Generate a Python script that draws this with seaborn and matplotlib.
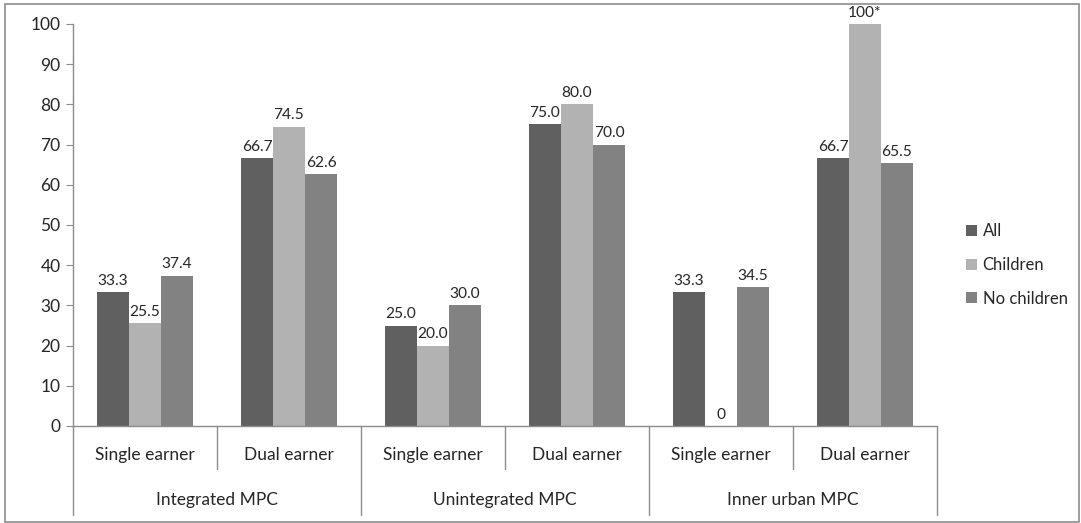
import matplotlib
matplotlib.use("Agg")
import matplotlib.pyplot as plt
import matplotlib.transforms as mtransforms
from matplotlib.patches import Rectangle
import pandas as pd
import seaborn as sns

groups = ["Integrated MPC", "Unintegrated MPC", "Inner urban MPC"]
earners = ["Single earner", "Dual earner"]
series = ["All", "Children", "No children"]
all_vals = [33.3, 66.7, 25.0, 75.0, 33.3, 66.7]
children_vals = [25.5, 74.5, 20.0, 80.0, 0.0, 100.0]
nochildren_vals = [37.4, 62.6, 30.0, 70.0, 34.5, 65.5]
children_labels = ["25.5", "74.5", "20.0", "80.0", "0", "100*"]

cats = [g + "|" + e for g in groups for e in earners]
rows = []
for name, vals in zip(series, [all_vals, children_vals, nochildren_vals]):
    for c, v in zip(cats, vals):
        rows.append({"cat": c, "series": name, "value": v})
df = pd.DataFrame(rows)

sns.set_style("white")
plt.rcParams['font.family'] = ['Lato', 'DejaVu Sans']
colors = ["#606060", "#b2b2b2", "#828282"]
fs = 12

fig = plt.figure(figsize=(10.81, 5.23), dpi=100)
ax = fig.add_axes([73 / 1081, 1 - 426 / 523, (937 - 73) / 1081, (426 - 24) / 523])
sns.barplot(data=df, x="cat", y="value", hue="series", order=cats, hue_order=series,
            palette=colors, width=2 / 3, gap=0, ax=ax, saturation=1, legend=True,
            linewidth=0, edgecolor="none")

ax.set_xlim(-0.5, 5.5)
ax.set_ylim(0, 100)
ax.set_yticks(range(0, 101, 10))
ax.tick_params(axis="y", length=5, color="#8c8c8c", labelsize=fs + 0.5, pad=4, direction="out", left=True)
ax.set_xticks([])
ax.set_xlabel("")
ax.set_ylabel("")
for s in ["top", "right"]:
    ax.spines[s].set_visible(False)
for s in ["left", "bottom"]:
    ax.spines[s].set_color("#8c8c8c")
    ax.spines[s].set_linewidth(1)

labels_all = [f"{v:.1f}" for v in all_vals]
labels_nc = [f"{v:.1f}" for v in nochildren_vals]
for cont, labs in zip(ax.containers, [labels_all, children_labels, labels_nc]):
    ax.bar_label(cont, labels=labs, padding=3, fontsize=fs - 0.8)

# two-level category axis below the plot
trans = mtransforms.blended_transform_factory(ax.transData, fig.transFigure)
def fy(py):
    return 1 - py / 523

for i, c in enumerate(cats):
    ax.text(i, fy(455), c.split("|")[1], transform=trans, ha="center", va="center", fontsize=fs + 0.5)
for j, g in enumerate(groups):
    ax.text(2 * j + 0.5, fy(500), g, transform=trans, ha="center", va="center", fontsize=fs + 0.5)
for k in range(7):
    xpos = k - 0.5
    bottom = 515 if k % 2 == 0 else 469
    ax.plot([xpos, xpos], [fy(426), fy(bottom)], transform=trans, color="#8c8c8c",
            lw=1, clip_on=False)

leg = ax.legend(loc="center left", bbox_to_anchor=(966 / 1081, 1 - 265 / 523),
                bbox_transform=fig.transFigure, frameon=False, fontsize=fs,
                handlelength=0.65, handleheight=0.65, handletextpad=0.35, labelspacing=1.05,
                borderpad=0, borderaxespad=0)

fig.patches.append(Rectangle((5 / 1081, 1 / 523), 1074 / 1081, 518 / 523, transform=fig.transFigure,
                             fill=False, edgecolor="#8c8c8c", lw=1.2))

fig.savefig("out.png", dpi=100)
